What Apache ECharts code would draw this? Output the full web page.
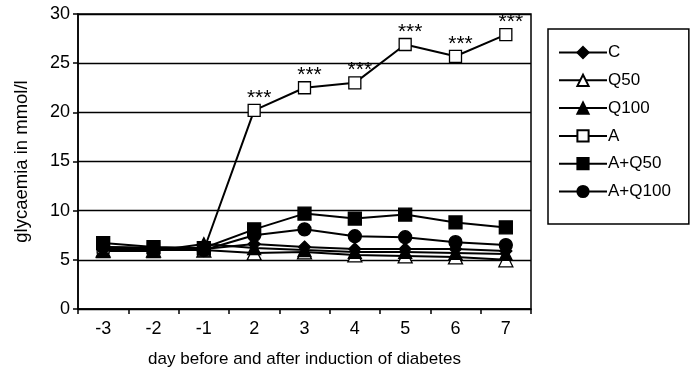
<!DOCTYPE html>
<html><head><meta charset="utf-8">
<script src="https://cdn.jsdelivr.net/npm/echarts@6/dist/echarts.min.js"></script>
<style>html,body{margin:0;padding:0;background:#fff}#c{width:693px;height:377px}</style>
</head><body><div id="c"></div>
<script>
var days = ['-3','-2','-1','2','3','4','5','6','7'];
var seriesNames = ['C','Q50','Q100','A','A+Q50','A+Q100'];
var valC     = [6.2, 6.1, 6.1, 6.6, 6.3, 6.1, 6.1, 6.1, 5.9];
var valQ50   = [6.0, 6.0, 6.0, 5.7, 5.8, 5.5, 5.4, 5.3, 5.0];
var valQ100  = [5.9, 5.9, 6.6, 6.2, 6.0, 5.8, 5.8, 5.7, 5.6];
var valA     = [6.3, 6.2, 6.0, 20.2, 22.5, 23.0, 26.9, 25.7, 27.9];
var valAQ50  = [6.7, 6.3, 6.2, 8.1, 9.7, 9.2, 9.6, 8.8, 8.3];
var valAQ100 = [6.3, 6.2, 6.0, 7.5, 8.1, 7.4, 7.3, 6.8, 6.5];
var signif   = ['', '', '', '***', '***', '***', '***', '***', '***'];
var yTicks = [0, 5, 10, 15, 20, 25, 30];

var font = '"Liberation Sans", Arial, sans-serif';
function mk(name, data, symbol, fill, size) {
  return {
    name: name, type: 'line', data: data, symbol: symbol, symbolSize: size,
    showAllSymbol: true,
    lineStyle: {color: '#000', width: 2},
    itemStyle: {color: fill, borderColor: '#000', borderWidth: 1.3},
    emphasis: {disabled: true}, animation: false
  };
}
var sA = mk('A', valA.map(function(v, i){
  return {value: v, label: {show: !!signif[i], formatter: signif[i]}};
}), 'rect', '#fff', 12);
sA.label = {position: 'top', distance: 0, offset: [5, 5], color: '#000', fontFamily: font, fontSize: 21};
sA.z = 3;

var chart = echarts.init(document.getElementById('c'), null, {renderer: 'canvas'});
chart.setOption({
  animation: false,
  grid: {left: 78, right: 162, top: 14, bottom: 68, show: true, borderColor: '#000', borderWidth: 1.5, backgroundColor: 'transparent'},
  legend: {
    orient: 'vertical', left: 548, top: 29,
    padding: [15, 18, 24, 10], itemGap: 10.8, itemWidth: 48, itemHeight: 14,
    borderColor: '#000', borderWidth: 1.5,
    textStyle: {fontFamily: font, fontSize: 17, color: '#000', padding: [0,0,0,-4]},
    data: seriesNames
  },
  xAxis: {
    type: 'category', data: days, boundaryGap: true,
    name: 'day before and after induction of diabetes', nameLocation: 'middle', nameGap: 42,
    nameTextStyle: {fontFamily: font, fontSize: 17, color: '#000'},
    axisLine: {lineStyle: {color: '#000', width: 1.5}},
    axisTick: {show: true, inside: false, length: 5, lineStyle: {color: '#000', width: 1.5}},
    axisLabel: {fontFamily: font, fontSize: 18, color: '#000', margin: 11}
  },
  yAxis: {
    type: 'value', min: yTicks[0], max: yTicks[yTicks.length-1], interval: 5,
    name: 'glycaemia in mmol/l', nameLocation: 'middle', nameGap: 47, nameRotate: 90,
    nameTextStyle: {fontFamily: font, fontSize: 18.5, color: '#000'},
    axisLine: {show: true, lineStyle: {color: '#000', width: 1.5}},
    axisTick: {show: true, length: 5, lineStyle: {color: '#000', width: 1.5}},
    axisLabel: {fontFamily: font, fontSize: 18, color: '#000', margin: 8},
    splitLine: {show: true, lineStyle: {color: '#000', width: 1.3}}
  },
  series: [
    mk('C', valC, 'diamond', '#000', 12),
    mk('Q50', valQ50, 'triangle', '#fff', 14),
    mk('Q100', valQ100, 'triangle', '#000', 13),
    sA,
    mk('A+Q50', valAQ50, 'rect', '#000', 13),
    mk('A+Q100', valAQ100, 'circle', '#000', 13)
  ]
});
</script></body></html>
